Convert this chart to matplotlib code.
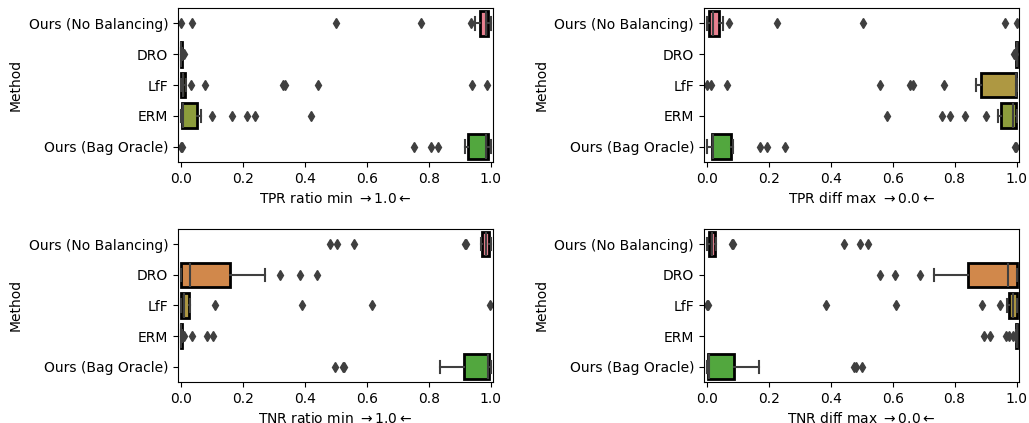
import matplotlib
matplotlib.use("Agg")
import matplotlib.pyplot as plt

methods = ["Ours (No Balancing)", "DRO", "LfF", "ERM", "Ours (Bag Oracle)"]
colors = ["#e8808f", "#d1884b", "#ae9842", "#8d9d3c", "#52a73e"]

# box stats per panel: q1, median, q3, whisker low, whisker high, outliers
tpr_ratio_q1 = [0.965, 0.0, 0.0, 0.003, 0.925]
tpr_ratio_med = [0.985, 0.001, 0.005, 0.006, 0.985]
tpr_ratio_q3 = [0.992, 0.003, 0.013, 0.05, 0.992]
tpr_ratio_lo = [0.95, 0.0, 0.0, 0.0, 0.917]
tpr_ratio_hi = [1.0, 0.004, 0.015, 0.064, 1.0]
tpr_ratio_out = [
    [0.0, 0.036, 0.499, 0.775, 0.935],
    [0.006, 0.01],
    [0.031, 0.076, 0.328, 0.335, 0.442, 0.939, 0.989],
    [0.1, 0.165, 0.212, 0.24, 0.419],
    [0.0, 0.003, 0.751, 0.807, 0.829],
]

tpr_diff_q1 = [0.008, 0.999, 0.884, 0.95, 0.016]
tpr_diff_med = [0.02, 1.0, 0.998, 0.99, 0.02]
tpr_diff_q3 = [0.04, 1.0, 0.998, 0.998, 0.079]
tpr_diff_lo = [0.0, 0.999, 0.87, 0.94, 0.0]
tpr_diff_hi = [0.051, 1.0, 1.0, 1.0, 0.084]
tpr_diff_out = [
    [0.071, 0.227, 0.505, 0.962, 1.0],
    [0.992, 0.995],
    [0.0, 0.013, 0.064, 0.56, 0.655, 0.665, 0.767],
    [0.582, 0.76, 0.785, 0.835, 0.9],
    [0.171, 0.193, 0.252, 0.995, 0.998],
]

tnr_ratio_q1 = [0.973, 0.0, 0.0, 0.0, 0.913]
tnr_ratio_med = [0.985, 0.029, 0.01, 0.001, 0.99]
tnr_ratio_q3 = [0.994, 0.159, 0.024, 0.003, 0.994]
tnr_ratio_lo = [0.97, 0.0, 0.0, 0.0, 0.836]
tnr_ratio_hi = [1.0, 0.272, 0.03, 0.004, 1.0]
tnr_ratio_out = [
    [0.481, 0.503, 0.559, 0.917, 0.92],
    [0.318, 0.385, 0.438],
    [0.11, 0.392, 0.618, 0.997],
    [0.005, 0.01, 0.034, 0.082, 0.104],
    [0.497, 0.522, 0.526],
]

tnr_diff_q1 = [0.008, 0.843, 0.975, 0.998, 0.005]
tnr_diff_med = [0.015, 0.974, 0.99, 1.0, 0.008]
tnr_diff_q3 = [0.026, 1.0, 1.0, 1.0, 0.088]
tnr_diff_lo = [0.0, 0.733, 0.97, 0.997, 0.0]
tnr_diff_hi = [0.03, 1.0, 1.0, 1.0, 0.167]
tnr_diff_out = [
    [0.082, 0.084, 0.443, 0.495, 0.519],
    [0.558, 0.606, 0.687],
    [0.0, 0.003, 0.383, 0.61, 0.89, 0.945],
    [0.895, 0.915, 0.965, 0.975, 0.99],
    [0.475, 0.48, 0.50],
]

panels = [
    ("TPR ratio min $\\rightarrow 1.0 \\leftarrow$", tpr_ratio_q1, tpr_ratio_med, tpr_ratio_q3, tpr_ratio_lo, tpr_ratio_hi, tpr_ratio_out),
    ("TPR diff max $\\rightarrow 0.0 \\leftarrow$", tpr_diff_q1, tpr_diff_med, tpr_diff_q3, tpr_diff_lo, tpr_diff_hi, tpr_diff_out),
    ("TNR ratio min $\\rightarrow 1.0 \\leftarrow$", tnr_ratio_q1, tnr_ratio_med, tnr_ratio_q3, tnr_ratio_lo, tnr_ratio_hi, tnr_ratio_out),
    ("TNR diff max $\\rightarrow 0.0 \\leftarrow$", tnr_diff_q1, tnr_diff_med, tnr_diff_q3, tnr_diff_lo, tnr_diff_hi, tnr_diff_out),
]

fig = plt.figure(figsize=(10.29, 4.23), dpi=100)
rects = [
    [0.173, 0.617, 0.306, 0.364],
    [0.684, 0.617, 0.306, 0.364],
    [0.173, 0.097, 0.306, 0.362],
    [0.684, 0.097, 0.306, 0.362],
]

gray = "#3f3f3f"
for rect, (xlabel, q1, med, q3, lo, hi, out) in zip(rects, panels):
    ax = fig.add_axes(rect)
    stats = []
    for i in range(len(methods)):
        stats.append({"q1": q1[i], "med": med[i], "q3": q3[i],
                      "whislo": lo[i], "whishi": hi[i], "fliers": out[i]})
    bp = ax.bxp(stats, positions=range(len(methods)), widths=0.8,
                orientation="horizontal", patch_artist=True,
                boxprops=dict(edgecolor="black", linewidth=2),
                whiskerprops=dict(color=gray, linewidth=1.5),
                capprops=dict(color=gray, linewidth=1.5),
                medianprops=dict(color=gray, linewidth=1.5),
                flierprops=dict(marker="d", markersize=5,
                                markerfacecolor=gray, markeredgecolor=gray))
    for patch, c in zip(bp["boxes"], colors):
        patch.set_facecolor(c)
    ax.set_yticks(range(len(methods)))
    ax.set_yticklabels(methods)
    ax.set_ylim(4.5, -0.5)
    ax.set_xlim(-0.01, 1.007)
    ax.set_xticks([0.0, 0.2, 0.4, 0.6, 0.8, 1.0])
    ax.set_xticklabels(["0.0", "0.2", "0.4", "0.6", "0.8", "1.0"])
    ax.set_xlabel(xlabel)
    ax.set_ylabel("Method")

fig.savefig("out.png", dpi=100)
